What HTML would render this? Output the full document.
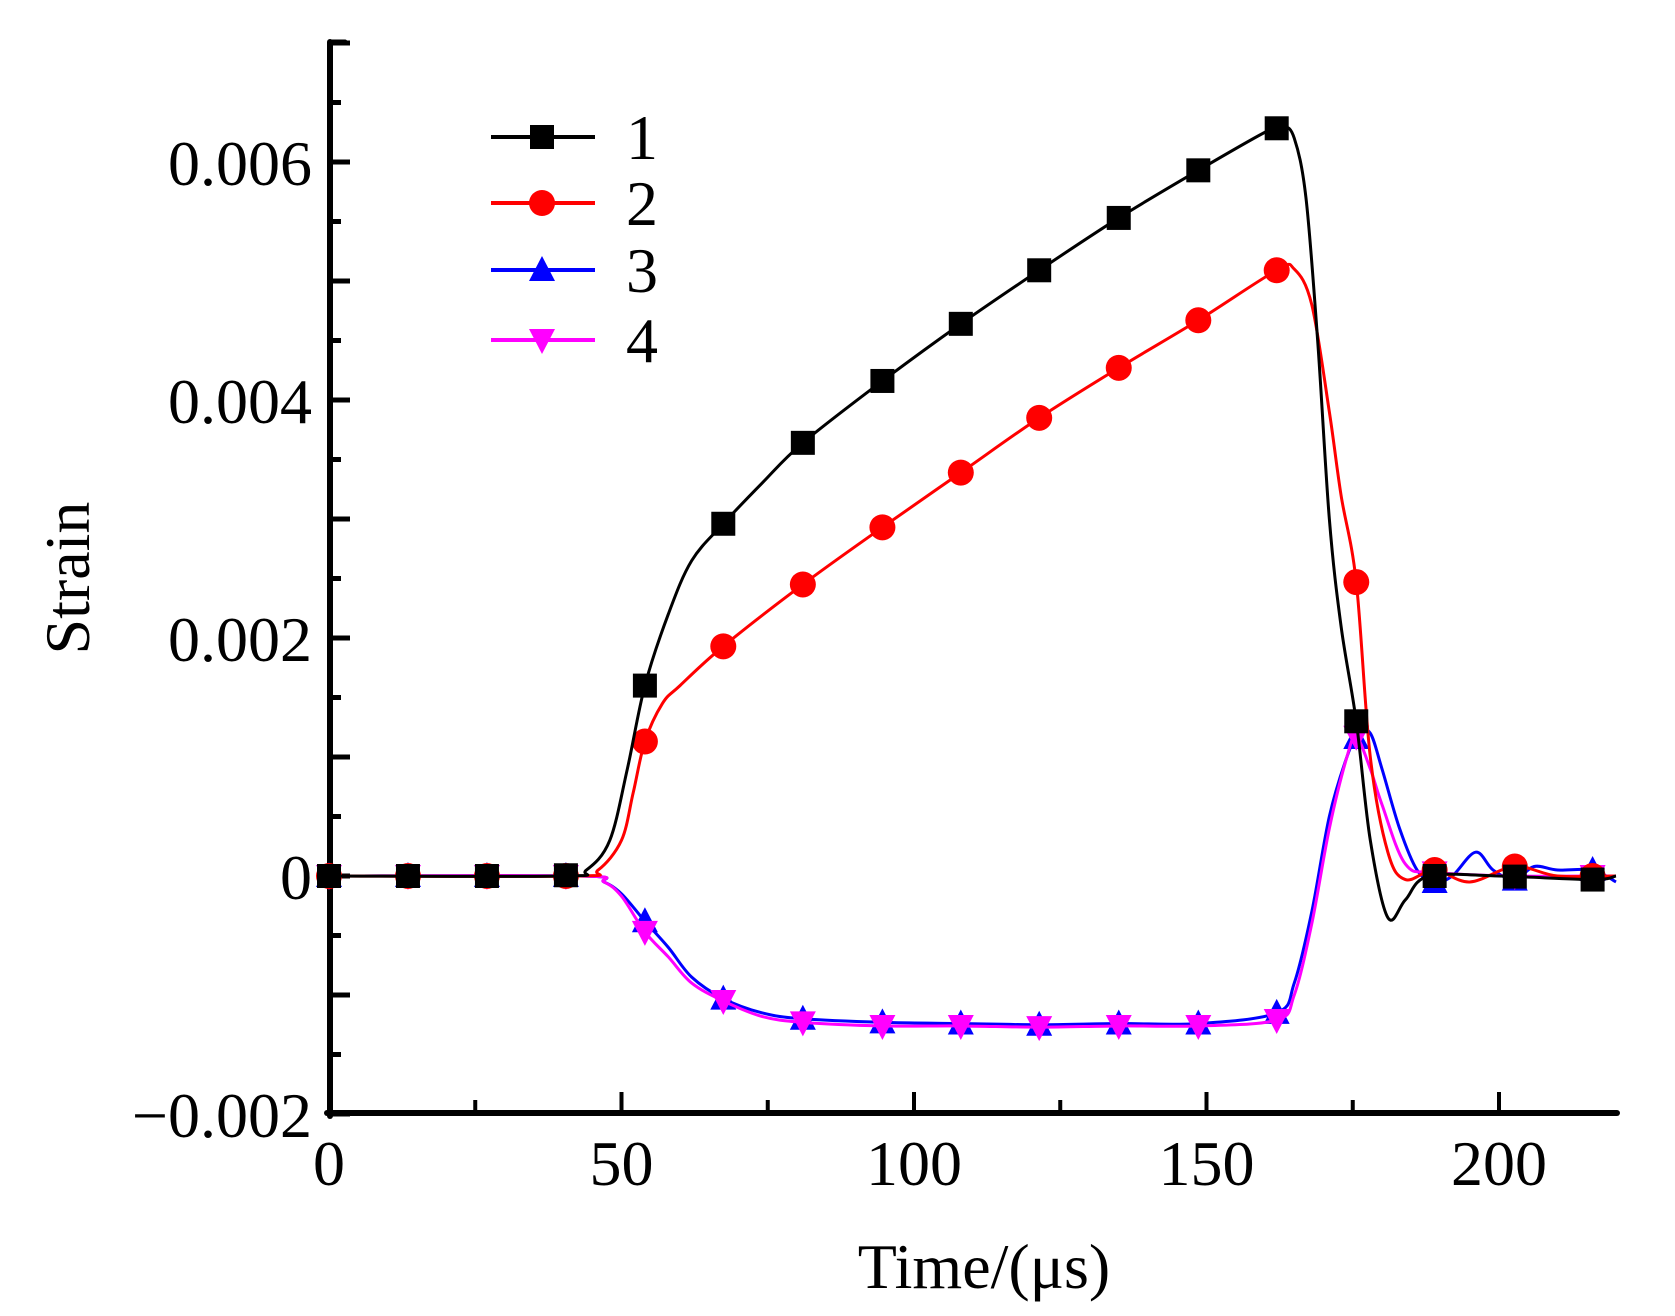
<!DOCTYPE html>
<html><head><meta charset="utf-8"><style>
html,body{margin:0;padding:0;background:#fff;}
svg{display:block;}
text{font-family:"Liberation Serif",serif;fill:#000;}
</style></head><body>
<svg id="chart" width="1675" height="1316" viewBox="0 0 1675 1316" xmlns="http://www.w3.org/2000/svg">
<g id="axes"></g>
<g id="series"></g>
<g id="legend"></g>
<text x="0" y="0" font-size="64" text-anchor="middle" transform="translate(89,578) rotate(-90)">Strain</text>
<text x="984" y="1288" font-size="64" text-anchor="middle">Time/(μs)</text>
</svg>
<script>
const xTicks = [0, 50, 100, 150, 200];
const xMinorTicks = [25, 75, 125, 175];
const yTicks = [-0.002, 0, 0.002, 0.004, 0.006];
const yTickLabels = ["\u22120.002", "0", "0.002", "0.004", "0.006"];
const yMidTicks = [-0.001, 0.001, 0.003, 0.005, 0.007];
const yMinorTicks = [-0.0015, -0.0005, 0.0005, 0.0015, 0.0025, 0.0035, 0.0045, 0.0055, 0.0065];
const seriesNames = ["1", "2", "3", "4"];
const markerTimes = [0, 13.5, 27, 40.5, 54, 67.4, 81, 94.6, 108, 121.4, 135, 148.6, 162, 175.6, 189, 202.7, 216];

const t1 = [0,40,44,48,51,54,58,62,67.4,74,81,94.6,108,121.4,135,148.6,160,163,165,167,169,171,173,175.6,178,181,184,188,200,216,220];
const v1 = [0,0,0.00005,0.0003,0.0009,0.0016,0.0022,0.00265,0.00296,0.0033,0.00364,0.00416,0.00464,0.00509,0.00553,0.00593,0.00625,0.0063,0.0062,0.0057,0.0045,0.003,0.0021,0.0013,0.0003,-0.00035,-0.0002,0,0,-0.00003,0];
const t2 = [0,42,46,50,52,54,57,60,67.4,81,94.6,108,121.4,135,148.6,162,165,168,171,173,175.6,178,181,184,189,195,202.7,210,220];
const v2 = [0,0,0.00005,0.0003,0.0007,0.00113,0.00145,0.0016,0.00193,0.00245,0.00293,0.00339,0.00385,0.00427,0.00467,0.00509,0.0051,0.0048,0.0039,0.0032,0.00247,0.001,0.0002,-0.00003,0.00005,-0.00005,0.00008,0,0];
const t3 = [0,43,47,50,54,58,62,67.4,74,81,94.6,108,121.4,135,148.6,162,165,168,171,174,176,178,180,183,186,189,192,196,199,202.7,206,210,216,220];
const v3 = [0,0,-0.00005,-0.00015,-0.00038,-0.0006,-0.00085,-0.00103,-0.00115,-0.0012,-0.00123,-0.00124,-0.00125,-0.00124,-0.00124,-0.00115,-0.0009,-0.0003,0.0005,0.001,0.0012,0.0012,0.0009,0.0004,0.00005,-0.00005,0,0.0002,0.00005,-0.00003,0.00008,0.00005,0.00005,-0.00005];
const t4 = [0,43,47,50,54,58,62,67.4,74,81,94.6,108,121.4,135,148.6,162,165,168,171,174,175.6,178,180,184,189,202.7,216,220];
const v4 = [0,0,-0.00005,-0.00017,-0.00047,-0.00068,-0.0009,-0.00105,-0.00118,-0.00123,-0.00126,-0.00126,-0.00127,-0.00126,-0.00126,-0.00121,-0.001,-0.0004,0.0004,0.001,0.00117,0.0009,0.0006,0.0001,0.00003,0,0,0];

const colors = ["#000000", "#ff0000", "#0000ff", "#ff00ff"];
const markers = ["square", "circle", "triangle", "down"];
const X0 = 329, XPX = 5.85, Y0 = 876, YPX = 238 / 0.002;
function sx(t){ return X0 + t * XPX; }
function sy(v){ return Y0 - v * YPX; }
const NS = "http://www.w3.org/2000/svg";
function mk(tag, attrs, parent){ const e = document.createElementNS(NS, tag); for (const k in attrs) e.setAttribute(k, attrs[k]); parent.appendChild(e); return e; }

const axes = document.getElementById('axes');
let e;
e = mk('line', {x1:330, y1:42, x2:330, y2:1116, stroke:'#000', 'stroke-width':6, 'stroke-linecap':'round'}, axes);
 
e = mk('line', {x1:327, y1:1113, x2:1617, y2:1113, stroke:'#000', 'stroke-width':6, 'stroke-linecap':'round'}, axes);
 
e = mk('line', {x1:330, y1:42, x2:345, y2:42, stroke:'#000', 'stroke-width':5, 'stroke-linecap':'round'}, axes);
 
xTicks.forEach(t => {
  const l = mk('line', {x1:sx(t), y1:1113, x2:sx(t), y2:1092, stroke:'#000', 'stroke-width':4}, axes);
   
  const tx = mk('text', {x:sx(t), y:1185, 'font-size':64, 'text-anchor':'middle'}, axes);
  tx.textContent = String(t);
   
});
xMinorTicks.forEach(t => {
  const l = mk('line', {x1:sx(t), y1:1113, x2:sx(t), y2:1100, stroke:'#000', 'stroke-width':4}, axes);
   
});
yTicks.forEach((v, i) => {
  const l = mk('line', {x1:330, y1:sy(v), x2:350, y2:sy(v), stroke:'#000', 'stroke-width':5}, axes);
   
  const tx = mk('text', {x:312, y:sy(v) + 23, 'font-size':64, 'text-anchor':'end'}, axes);
  tx.textContent = yTickLabels[i];
   
});
yMidTicks.forEach(v => {
  const l = mk('line', {x1:330, y1:sy(v), x2:350, y2:sy(v), stroke:'#000', 'stroke-width':5}, axes);
   
});
yMinorTicks.forEach(v => {
  const l = mk('line', {x1:330, y1:sy(v), x2:341, y2:sy(v), stroke:'#000', 'stroke-width':5}, axes);
   
});

function smoothPath(ts, vs){
  const p = ts.map((t, i) => [sx(t), sy(vs[i])]);
  let d = 'M' + p[0][0] + ',' + p[0][1];
  for (let i = 0; i < p.length - 1; i++) {
    const a = p[Math.max(0, i - 1)], b = p[i], c = p[i + 1], n = p[Math.min(p.length - 1, i + 2)];
    const c1 = [b[0] + (c[0] - a[0]) / 6, b[1] + (c[1] - a[1]) / 6];
    const c2 = [c[0] - (n[0] - b[0]) / 6, c[1] - (n[1] - b[1]) / 6];
    d += ' C' + c1[0] + ',' + c1[1] + ' ' + c2[0] + ',' + c2[1] + ' ' + c[0] + ',' + c[1];
  }
  return d;
}
function interp(ts, vs, t){
  for (let i = 0; i < ts.length - 1; i++) if (t >= ts[i] && t <= ts[i + 1]) return vs[i] + (vs[i + 1] - vs[i]) * (t - ts[i]) / (ts[i + 1] - ts[i]);
  return vs[vs.length - 1];
}
function drawMarker(kind, x, y, color, parent){
  let m;
  if (kind === 'square') m = mk('rect', {x:x - 12, y:y - 12, width:24, height:24, fill:color}, parent);
  else if (kind === 'circle') m = mk('circle', {cx:x, cy:y, r:13, fill:color}, parent);
  else if (kind === 'triangle') m = mk('polygon', {points:`${x},${y - 14} ${x - 13},${y + 11} ${x + 13},${y + 11}`, fill:color}, parent);
  else m = mk('polygon', {points:`${x},${y + 14} ${x - 13},${y - 11} ${x + 13},${y - 11}`, fill:color}, parent);
  return m;
}
const allT = [t1, t2, t3, t4], allV = [v1, v2, v3, v4];
const sg = document.getElementById('series');
[2, 3, 1, 0].forEach(s => {
  const g = mk('g', {}, sg);
  
  
  const path = mk('path', {d:smoothPath(allT[s], allV[s]), fill:'none', stroke:colors[s], 'stroke-width':3}, g);
  
  
  markerTimes.forEach(t => {
    const m = drawMarker(markers[s], sx(t), sy(interp(allT[s], allV[s], t)), colors[s], g);
    
    
  });
});
const lg = document.getElementById('legend');
const legY = [137, 203, 270, 340];
seriesNames.forEach((n, i) => {
  const g = mk('g', {}, lg);
  
  
  mk('line', {x1:491, y1:legY[i], x2:595, y2:legY[i], stroke:colors[i], 'stroke-width':4}, g);
  drawMarker(markers[i], 542, legY[i], colors[i], g);
  const tx = mk('text', {x:626, y:legY[i] + 22, 'font-size':64}, g);
  tx.textContent = n;
});
</script>
</body></html>
